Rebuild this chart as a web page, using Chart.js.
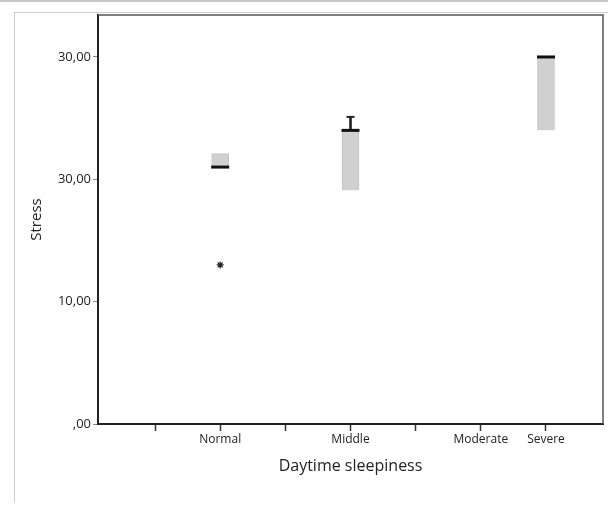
<!DOCTYPE html>
<html>
<head>
<meta charset="utf-8">
<script src="https://cdn.jsdelivr.net/npm/chart.js@4.4.1/dist/chart.umd.min.js"></script>
<style>
  html, body { margin: 0; padding: 0; background: #fff; }
  #wrap { position: relative; width: 608px; height: 506px; overflow: hidden; }
  #topline { position: absolute; left: 0; top: 0; width: 608px; height: 2px; background: #c8c8c8; }
  #frame { position: absolute; left: 14px; top: 12px; width: 700px; height: 490px;
           border-left: 1px solid #cfcfcf; border-top: 1px solid #cfcfcf; }
  canvas { position: absolute; left: 0; top: 0; }
</style>
</head>
<body>
<div id="wrap">
  <div id="topline"></div>
  <div id="frame"></div>
  <canvas id="boxChart" width="615" height="506"></canvas>
</div>
<script>
// Data
const categories = ['', 'Normal', '', 'Middle', '', 'Moderate', 'Severe'];
const xPositions = [0, 1, 2, 3, 4, 5, 6];
const boxCats = [1, 3, 6];
const boxLow = [21.0, 19.1, 24.0];
const boxHigh = [22.1, 24.0, 30.0];
const medians = [21.0, 24.0, 30.0];
const whiskerCats = [3];
const whiskerLow = [24.0];
const whiskerHigh = [25.1];
const outlierCats = [1];
const outlierValues = [13.0];
const yTickValues = [0, 10, 20, 30];
const yTickLabels = [',00', '10,00', '30,00', '30,00'];

const fontFam = '"Open Sans", "Noto Sans", sans-serif';

const frameBox = {
  id: 'frameBox',
  afterDraw(chart) {
    const { ctx, chartArea: a } = chart;
    ctx.save();
    ctx.strokeStyle = '#555';
    ctx.lineWidth = 1.5;
    ctx.beginPath();
    ctx.moveTo(a.left, a.top);
    ctx.lineTo(a.right, a.top);
    ctx.lineTo(a.right, a.bottom);
    ctx.stroke();
    ctx.restore();
  }
};

const ctx = document.getElementById('boxChart').getContext('2d');
new Chart(ctx, {
  type: 'bar',
  data: {
    datasets: [
      {
        label: 'box',
        data: boxCats.map((c, i) => ({ x: c, y: [boxLow[i], boxHigh[i]] })),
        backgroundColor: '#d0d0d0',
        borderColor: '#c4c4c4',
        borderWidth: 1,
        barThickness: 17,
        grouped: false,
        order: 3
      },
      {
        label: 'whisker',
        data: whiskerCats.map((c, i) => ({ x: c, y: [whiskerLow[i], whiskerHigh[i]] })),
        backgroundColor: '#222',
        barThickness: 2,
        grouped: false,
        order: 2
      },
      {
        type: 'scatter',
        label: 'median',
        data: boxCats.map((c, i) => ({ x: c, y: medians[i] })),
        pointStyle: 'line',
        pointRadius: 9,
        pointHoverRadius: 9,
        borderWidth: 3,
        borderColor: '#111',
        order: 1
      },
      {
        type: 'scatter',
        label: 'cap',
        data: whiskerCats.map((c, i) => ({ x: c, y: whiskerHigh[i] })),
        pointStyle: 'line',
        pointRadius: 4,
        borderWidth: 2,
        borderColor: '#222',
        order: 1
      },
      {
        type: 'scatter',
        label: 'outlier',
        data: outlierCats.map((c, i) => ({ x: c, y: outlierValues[i] })),
        pointStyle: 'star',
        pointRadius: 3.5,
        borderWidth: 1.2,
        borderColor: '#222',
        backgroundColor: '#222',
        order: 1
      }
    ]
  },
  plugins: [frameBox],
  options: {
    responsive: false,
    animation: false,
    layout: { padding: { top: 15, right: 5, left: 0, bottom: 0 } },
    plugins: {
      legend: { display: false },
      tooltip: { enabled: false }
    },
    scales: {
      x: {
        type: 'linear',
        offset: false,
        min: -0.875,
        max: 6.875,
        afterBuildTicks: s => { s.ticks = xPositions.map(v => ({ value: v })); },
        afterFit: s => { s.height = 82; s.paddingLeft = 0; s.paddingRight = 0; },
        grid: { offset: false, drawOnChartArea: false, tickLength: 7, color: '#333', tickWidth: 1.5 },
        border: { display: true, color: '#222', width: 2 },
        ticks: {
          autoSkip: false,
          maxRotation: 0,
          padding: 1,
          color: '#222',
          font: { family: fontFam, size: 12 },
          callback: v => categories[v] || ''
        },
        title: {
          display: true,
          text: 'Daytime sleepiness',
          color: '#222',
          font: { family: fontFam, size: 16 },
          padding: { top: 0, bottom: 30 }
        }
      },
      y: {
        min: 0,
        max: 33.43,
        afterBuildTicks: s => { s.ticks = yTickValues.map(v => ({ value: v })); },
        afterFit: s => { s.width = 98; s.paddingTop = 0; s.paddingBottom = 0; },
        grid: { drawOnChartArea: false, tickLength: 5, color: '#888', tickWidth: 1 },
        border: { display: true, color: '#222', width: 2 },
        ticks: {
          padding: 2,
          color: '#222',
          font: { family: fontFam, size: 13 },
          callback: (v, i) => yTickLabels[i]
        },
        title: {
          display: true,
          text: 'Stress',
          color: '#222',
          font: { family: fontFam, size: 15 },
          padding: { top: 28, bottom: 0 }
        }
      }
    }
  }
});
</script>
</body>
</html>
